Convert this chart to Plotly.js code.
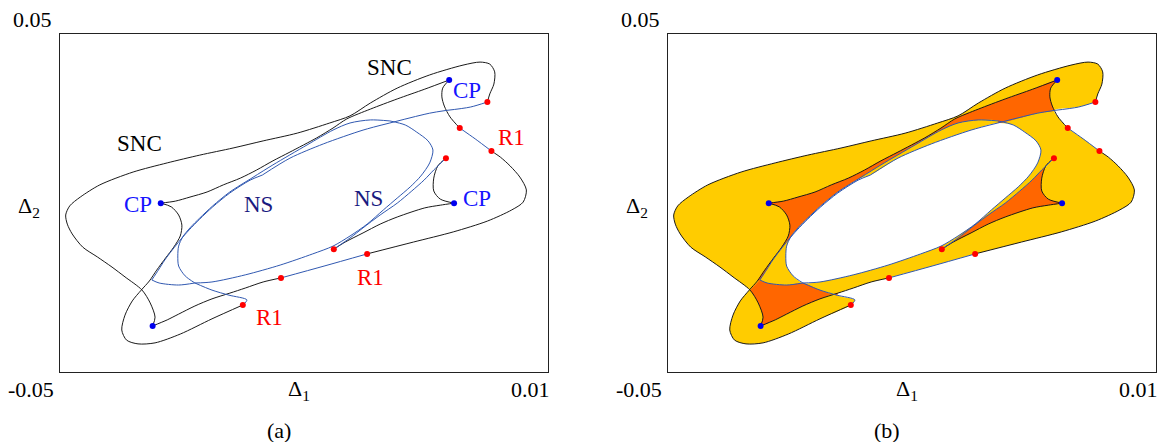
<!DOCTYPE html>
<html>
<head>
<meta charset="utf-8">
<script src="https://cdn.plot.ly/plotly-3.0.1.min.js"></script>
<style>html,body{margin:0;padding:0;background:#fff;}#chart{width:1159px;height:442px;}</style>
</head>
<body>
<div id="chart"></div>
<script>
// All curve values are (Δ1, Δ2) in units of 1e-3.
const UNIT = 1e-3;

// ---- SNC (black) curves ----
const sncOuter = [[-38.6,-36.3],[-38.3,-33.7],[-38.9,-29.5],[-39.9,-25.7],[-42.0,-21.8],[-43.6,-18.9],[-45.4,-15.9],[-47.2,-13.0],[-48.5,-9.1],[-49.1,-6.2],[-49.3,-3.5],[-48.8,-0.8],[-47.5,1.8],[-45.1,5.4],[-41.0,9.2],[-36.8,11.9],[-32.8,14.2],[-28.7,16.3],[-25.0,18.4],[-20.8,20.7],[-16.8,23.7],[-14.3,25.8],[-11.8,29.6],[-8.5,34.0],[-4.5,37.9],[-0.4,40.8],[1.7,41.7],[2.9,41.1],[3.5,38.8],[3.4,35.2],[2.9,32.3],[2.6,29.9]];
const sncCpTop = [[-37.6,0.0],[-35.8,0.6],[-34.0,1.8],[-31.9,3.3],[-29.9,5.4],[-27.8,7.4],[-25.8,9.8],[-23.8,12.5],[-21.7,15.1],[-18.4,19.3],[-16.4,22.2],[-14.7,24.9],[-11.8,27.8],[-8.5,30.8],[-5.1,33.7],[-2.1,36.4]];
const sncLoop = [[-37.6,0.0],[-36.3,-1.1],[-35.4,-3.5],[-35.0,-6.5],[-35.2,-9.7],[-36.0,-13.0],[-37.0,-16.2],[-38.1,-19.8],[-39.0,-23.0],[-40.0,-25.7],[-41.1,-28.9],[-42.0,-33.1],[-42.4,-37.5],[-41.8,-40.5],[-40.4,-41.6],[-38.3,-41.3],[-35.2,-38.7],[-31.3,-34.2],[-27.5,-30.1]];
const sncBottom = [[-38.6,-36.3],[-36.8,-34.5],[-35.4,-32.8],[-33.4,-30.4],[-31.3,-28.3],[-29.1,-26.6],[-27.2,-25.1],[-25.0,-23.3],[-22.8,-22.1]];
const sncTopHook = [[-2.1,36.4],[-2.9,34.0],[-3.0,31.4],[-2.7,28.7],[-2.0,25.5],[-0.8,22.2]];
const sncRight = [[3.1,15.4],[4.2,13.6],[5.4,11.0],[6.6,7.7],[7.4,3.9],[7.0,0.3],[5.6,-2.0],[2.6,-5.3],[-1.6,-8.5],[-6.5,-11.5],[-12.2,-15.0]];
const sncCusp = [[-2.5,13.3],[-3.5,11.0],[-4.0,7.4],[-4.0,3.6],[-3.2,1.2],[-1.5,0.0]];
const sncCpRight = [[-1.5,0.0],[-3.2,-0.6],[-5.1,-1.4],[-8.5,-4.1],[-10.6,-6.2],[-12.7,-8.8],[-14.9,-11.5],[-16.3,-13.6]];

// ---- NS / R1 (blue) curves ----
const r1Upper = [[-0.8,22.2],[1.1,19.0],[3.1,15.4]];
const r1Lower = [[-12.2,-15.0],[-17.5,-18.6],[-22.8,-22.1]];
const nsCusp = [[-16.3,-13.6],[-14.3,-10.3],[-12.7,-7.3],[-10.6,-3.5],[-8.5,0.0],[-6.7,3.6],[-5.2,6.8],[-4.0,9.8],[-3.1,11.9],[-2.5,13.3]];
const nsStart = [[-27.5,-30.1],[-27.0,-28.6],[-29.2,-27.2],[-31.3,-25.7],[-33.4,-23.6]];
const nsLoopLeft = [[-33.4,-23.6],[-34.6,-21.5],[-35.4,-18.6],[-35.5,-15.6],[-35.4,-12.7],[-34.9,-10.0],[-34.0,-7.3],[-32.8,-4.4],[-31.2,-0.8],[-29.1,3.3],[-26.6,7.1]];
const nsLoopTop = [[-26.6,7.1],[-23.8,11.3],[-19.6,17.2],[-16.4,21.6],[-14.3,23.7],[-11.8,24.6],[-9.4,24.3]];
const nsLoopRight = [[-9.4,24.3],[-7.5,23.1],[-6.1,21.0],[-4.7,18.4],[-4.1,15.7],[-4.5,11.9],[-5.6,8.0],[-6.9,4.8],[-8.5,1.5],[-10.2,-2.0],[-12.2,-6.2],[-14.3,-9.7],[-16.4,-12.7],[-18.9,-15.0],[-22.9,-18.3],[-27.2,-21.2],[-31.3,-23.3],[-33.4,-23.6]];
const nsLowerTip = [[-33.4,-23.6],[-35.4,-24.2],[-37.8,-23.6],[-38.7,-22.7]];
const nsTipBranch = [[-38.7,-22.7],[-37.9,-19.8],[-37.1,-16.8],[-36.2,-13.9],[-35.2,-10.9],[-34.1,-7.9],[-32.8,-4.7],[-31.2,-1.1],[-29.1,3.0],[-26.6,6.8],[-25.1,8.3]];
const nsMid = [[-25.1,8.3],[-21.7,13.3],[-17.6,17.5],[-12.7,21.6],[-9.4,23.7]];
const nsUpper = [[-9.4,23.7],[-4.5,26.6],[-2.5,27.4]];
const nsEnd = [[-2.5,27.4],[0.5,28.4],[2.6,29.9]];

// ---- special points ----
const r1Points = [[2.6,29.9],[-0.8,22.2],[3.1,15.4],[-2.5,13.3],[-16.3,-13.6],[-12.2,-15.0],[-22.8,-22.1],[-27.5,-30.1]];
const cpPoints = [[-2.1,36.4],[-37.6,0.0],[-1.5,0.0],[-38.6,-36.3]];

// ---- helpers ----
const xs = a => a.map(p => p[0]*UNIT);
const ys = a => a.map(p => p[1]*UNIT);
const rev = a => a.slice().reverse();
const cat = (...as) => [].concat(...as);

const BLACK = '#1a1a1a', BLUE = '#3058b0', YEL = '#FFCC00', ORA = '#FF6600';
const PA = {x:'x', y:'y'}, PB = {x:'x2', y:'y2'};

function lineTrace(a, color, ax) {
  return {x: xs(a), y: ys(a), xaxis: ax.x, yaxis: ax.y, mode: 'lines',
    line: {color: color, width: 1, shape: 'spline', smoothing: 0.8}, hoverinfo: 'skip'};
}
function fillTrace(a, color, ax) {
  return {x: xs(a), y: ys(a), xaxis: ax.x, yaxis: ax.y, mode: 'lines', fill: 'toself',
    fillcolor: color, line: {width: 0, color: color, shape: 'spline', smoothing: 0.8}, hoverinfo: 'skip'};
}
function markerTrace(a, color, ax) {
  return {x: xs(a), y: ys(a), xaxis: ax.x, yaxis: ax.y, mode: 'markers',
    marker: {color: color, size: 6}, hoverinfo: 'skip'};
}

// ---- regions for panel (b) ----
const regionMain = cat(sncOuter, rev(nsEnd), sncTopHook.slice(4), r1Upper.slice(1), sncRight.slice(1), r1Lower.slice(1), rev(sncBottom));
const regionFlap = cat(sncLoop.slice(9), nsStart.slice(1,3), rev(sncBottom.slice(0,6)), sncOuter.slice(1,4));
const cuspUpper = cat(sncCpTop, sncTopHook.slice(1,4), rev(nsUpper), rev(nsLoopTop), rev(nsTipBranch.slice(0,9)), rev(sncLoop.slice(0,9)));
const cuspLower = cat(rev(sncOuter.slice(0,4)), sncBottom.slice(1,6), nsStart.slice(2), nsLowerTip.slice(1));
const cuspRight = cat(sncCusp, sncCpRight.slice(1), nsCusp.slice(1));
const hole = cat(nsLoopLeft, nsMid, nsLoopRight.slice(1));

const blackCurves = [sncOuter, sncCpTop, sncLoop, sncBottom, sncTopHook, sncRight, sncCusp, sncCpRight];
const blueCurves = [r1Upper, r1Lower, nsCusp, nsStart, nsLoopLeft, nsLoopTop, nsLoopRight, nsLowerTip, nsTipBranch, nsMid, nsUpper, nsEnd];

const traces = [];
// panel (b) fills
traces.push(fillTrace(regionMain, YEL, PB));
traces.push(fillTrace(regionFlap, YEL, PB));
traces.push(fillTrace(cuspUpper, ORA, PB));
traces.push(fillTrace(cuspLower, ORA, PB));
traces.push(fillTrace(cuspRight, ORA, PB));
traces.push(fillTrace(hole, '#FFFFFF', PB));
// lines for both panels
[PA, PB].forEach(ax => {
  blackCurves.forEach(c => traces.push(lineTrace(c, BLACK, ax)));
  blueCurves.forEach(c => traces.push(lineTrace(c, BLUE, ax)));
  traces.push(markerTrace(r1Points, '#ff0000', ax));
  traces.push(markerTrace(cpPoints, '#0000ee', ax));
});

const W = 1159, H = 442;
const axBase = {showline: true, mirror: true, linecolor: '#222', linewidth: 1, showgrid: false,
  zeroline: false, showticklabels: false, ticks: '', fixedrange: true};
const yDom = [(H-372.3)/H, (H-34)/H];

const F = 'Liberation Serif, Times New Roman, serif';
function lab(text, x, y, xref, yref, color, size) {
  return {text: text, x: x, y: y, xref: xref, yref: yref, showarrow: false,
    xanchor: 'center', yanchor: 'middle', font: {family: F, size: size, color: color}};
}
const ann = [];
const LS = 23;
// panel (a) curve labels
ann.push(lab('SNC', -9.4*UNIT, 40.2*UNIT, 'x', 'y', '#000', LS));
ann.push(lab('SNC', -40.2*UNIT, 17.5*UNIT, 'x', 'y', '#000', LS));
ann.push(lab('CP', 0.1*UNIT, 33.4*UNIT, 'x', 'y', '#1515ff', LS));
ann.push(lab('CP', -40.4*UNIT, -0.5*UNIT, 'x', 'y', '#1515ff', LS));
ann.push(lab('CP', 1.3*UNIT, 1.5*UNIT, 'x', 'y', '#1515ff', LS));
ann.push(lab('NS', -25.6*UNIT, -0.5*UNIT, 'x', 'y', '#1a1a80', LS));
ann.push(lab('NS', -12.0*UNIT, 1.5*UNIT, 'x', 'y', '#1a1a80', LS));
ann.push(lab('R1', 5.6*UNIT, 19.5*UNIT, 'x', 'y', '#ff0000', LS));
ann.push(lab('R1', -11.8*UNIT, -22.1*UNIT, 'x', 'y', '#ff0000', LS));
ann.push(lab('R1', -24.2*UNIT, -33.7*UNIT, 'x', 'y', '#ff0000', LS));
// axis texts for both panels
[0, 608].forEach((off, i) => {
  const px = v => (v + off) / W, py = v => 1 - v / H;
  ann.push(lab('0.05', px(32), py(20), 'paper', 'paper', '#000', 22));
  ann.push(lab('-0.05', px(31), py(389), 'paper', 'paper', '#000', 22));
  ann.push(lab('0.01', px(530), py(389), 'paper', 'paper', '#000', 22));
  ann.push(lab('Δ<sub>2</sub>', px(29), py(207), 'paper', 'paper', '#000', 22));
  ann.push(lab('Δ<sub>1</sub>', px(299), py(390), 'paper', 'paper', '#000', 22));
  ann.push(lab(i === 0 ? '(a)' : '(b)', px(279), py(430), 'paper', 'paper', '#000', 22));
});

const layout = {
  width: W, height: H, margin: {l: 0, r: 0, t: 0, b: 0},
  paper_bgcolor: '#fff', plot_bgcolor: 'rgba(0,0,0,0)', showlegend: false,
  xaxis: Object.assign({}, axBase, {domain: [60/W, 547.5/W], range: [-0.05, 0.01], anchor: 'y'}),
  yaxis: Object.assign({}, axBase, {domain: yDom, range: [-0.05, 0.05], anchor: 'x'}),
  xaxis2: Object.assign({}, axBase, {domain: [668/W, 1155.5/W], range: [-0.05, 0.01], anchor: 'y2'}),
  yaxis2: Object.assign({}, axBase, {domain: yDom, range: [-0.05, 0.05], anchor: 'x2'}),
  annotations: ann
};

Plotly.newPlot('chart', traces, layout, {staticPlot: true, displayModeBar: false});
</script>
</body>
</html>
